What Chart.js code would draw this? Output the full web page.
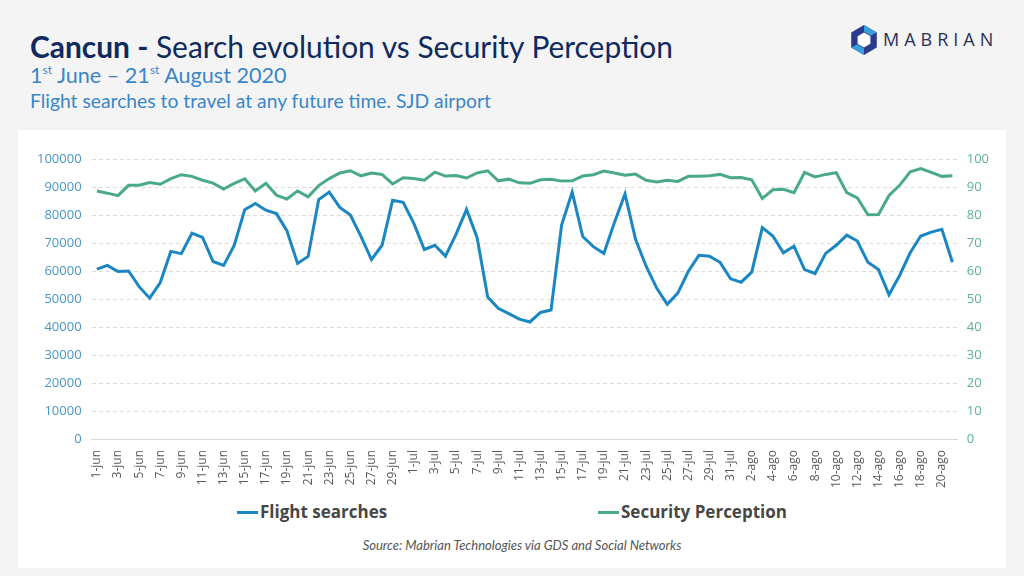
<!doctype html>
<html>

<head>
    <title>Cancun - Search evolution vs Security Perception</title>
    <script src="https://cdn.jsdelivr.net/npm/chart.js"></script>
    <style>
        body { margin: 0; width: 1024px; height: 576px; background: #f4f4f5; position: relative; overflow: hidden; font-family: Lato, "Open Sans", sans-serif; }
        .titulo { position: absolute; left: 30px; top: 28px; font-size: 29.9px; color: #102a5e; white-space: nowrap; }
        .titulo b { font-weight: 700; }
        .sub1 { position: absolute; left: 30px; top: 62px; font-size: 21.6px; color: #3b86c5; white-space: nowrap; }
        .sub1 sup { font-size: 12px; vertical-align: 9px; line-height: 0; }
        .sub2 { position: absolute; left: 30px; top: 89px; font-size: 19.3px; color: #3b86c5; white-space: nowrap; }
        .logo { position: absolute; left: 849px; top: 24px; }
        .logo svg { position: absolute; left: 0; top: 0; }
        .logo span { position: absolute; left: 34px; top: 3px; font-family: "Open Sans", sans-serif; font-size: 18px; letter-spacing: 5px; color: #2a2f5a; }
        .tarjeta { position: absolute; left: 18px; top: 130px; width: 988px; height: 438px; background: #fff; }
        #grafico { position: absolute; left: 18px; top: 141px; }
        .leyenda { position: absolute; top: 500px; font-family: "Open Sans", sans-serif; font-weight: 700; font-size: 17px; color: #474747; white-space: nowrap; }
        .leyenda i { display: inline-block; width: 21px; height: 3px; vertical-align: middle; margin-right: 2px; margin-top: -2px; }
        .fuente { position: absolute; top: 537px; left: 0; width: 1044px; text-align: center; font-style: italic; font-size: 13px; color: #555; }
    </style>
</head>

<body>

    <div class="titulo"><b>Cancun -</b> Search evolution vs Security Perception</div>
    <div class="sub1">1<sup>st</sup> June – 21<sup>st</sup> August 2020</div>
    <div class="sub2">Flight searches to travel at any future time. SJD airport</div>
    <div class="logo">
        <svg width="30" height="32" viewBox="0 0 28 30">
            <polygon points="14,1 26,8 26,22 14,29 2,22 2,8" fill="#2b3a8c" />
            <polygon points="14,1 26,8 20,11 14,7" fill="#3aa0dc" />
            <polygon points="2,22 8,19 14,23 14,29" fill="#3aa0dc" />
            <polygon points="14,8 20,11.5 20,18.5 14,22 8,18.5 8,11.5" fill="#fff" />
        </svg>
        <span>MABRIAN</span>
    </div>
    <div class="tarjeta"></div>
    <canvas id="grafico" width="988" height="350"></canvas>
    <div id="leyenda"></div>
    <div class="fuente">Source: Mabrian Technologies via GDS and Social Networks</div>

    <script>

    const fechas = ['1-jun', '2-jun', '3-jun', '4-jun', '5-jun', '6-jun', '7-jun', '8-jun', '9-jun', '10-jun',
        '11-jun', '12-jun', '13-jun', '14-jun', '15-jun', '16-jun', '17-jun', '18-jun', '19-jun', '20-jun',
        '21-jun', '22-jun', '23-jun', '24-jun', '25-jun', '26-jun', '27-jun', '28-jun', '29-jun', '30-jun',
        '1-jul', '2-jul', '3-jul', '4-jul', '5-jul', '6-jul', '7-jul', '8-jul', '9-jul', '10-jul',
        '11-jul', '12-jul', '13-jul', '14-jul', '15-jul', '16-jul', '17-jul', '18-jul', '19-jul', '20-jul',
        '21-jul', '22-jul', '23-jul', '24-jul', '25-jul', '26-jul', '27-jul', '28-jul', '29-jul', '30-jul', '31-jul',
        '1-ago', '2-ago', '3-ago', '4-ago', '5-ago', '6-ago', '7-ago', '8-ago', '9-ago', '10-ago',
        '11-ago', '12-ago', '13-ago', '14-ago', '15-ago', '16-ago', '17-ago', '18-ago', '19-ago', '20-ago', '21-ago'];

    // Flight searches (eje izquierdo)
    const busquedas = [60700, 62000, 59800, 60000, 54400, 50300, 55900, 67000, 66200, 73500,
        72000, 63400, 62000, 69100, 81900, 84100, 81700, 80500, 74300, 62700,
        65200, 85500, 88200, 82700, 80000, 72400, 64100, 69200, 85300, 84500,
        77100, 67700, 69200, 65300, 73100, 82000, 71900, 50700, 46700, 44800,
        42800, 41800, 45200, 46100, 76400, 88200, 72300, 68700, 66300, 77300,
        87500, 71300, 61700, 53900, 48100, 52100, 59900, 65600, 65300, 63100,
        57200, 56000, 59600, 75500, 72500, 66500, 68900, 60500, 59100, 66300,
        69200, 72800, 70700, 63100, 60500, 51500, 58400, 66500, 72500, 73900,
        74900, 63100];

    // Security Perception (eje derecho)
    const seguridad = [88.6, 87.8, 86.9, 90.6, 90.6, 91.6, 91.0, 93.0, 94.4, 93.8,
        92.4, 91.4, 89.3, 91.3, 92.9, 88.6, 91.3, 87.1, 85.7, 88.6,
        86.5, 90.5, 93.0, 95.0, 95.8, 94.0, 95.0, 94.5, 91.1, 93.3,
        93.0, 92.4, 95.3, 93.9, 94.1, 93.2, 95.0, 95.8, 92.2, 92.8,
        91.5, 91.3, 92.6, 92.8, 92.1, 92.2, 93.9, 94.4, 95.7, 95.0,
        94.2, 94.6, 92.4, 91.8, 92.4, 92.0, 93.8, 93.8, 94.0, 94.5,
        93.3, 93.4, 92.6, 85.9, 89.0, 89.2, 88.0, 95.2, 93.6, 94.5,
        95.1, 88.0, 86.1, 80.1, 80.2, 87.0, 90.6, 95.4, 96.6, 95.2,
        93.8, 94.0];

    const AZUL = '#1a86c2';
    const VERDE = '#4aaa86';

        var grafico = new Chart(document.getElementById('grafico').getContext('2d'), {
            type: 'line',
            data: {
                labels: fechas,
                datasets: [{
                    label: 'Flight searches',
                    data: busquedas,
                    borderColor: AZUL,
                    backgroundColor: AZUL,
                    borderWidth: 3,
                    pointRadius: 0,
                    tension: 0,
                    yAxisID: 'y'
                },
                {
                    label: 'Security Perception',
                    data: seguridad,
                    borderColor: VERDE,
                    backgroundColor: VERDE,
                    borderWidth: 3,
                    pointRadius: 0,
                    tension: 0,
                    yAxisID: 'y1'
                }]
            },
            options: {
                responsive: false,
                animation: false,
                layout: { padding: { top: 18, left: 9, right: 8, bottom: 0 } },
                plugins: {
                    legend: { display: false },
                    tooltip: { enabled: false }
                },
                scales: {
                    x: {
                        offset: true,
                        grid: { display: false },
                        border: { color: '#d9d9d9' },
                        ticks: {
                            autoSkip: false,
                            minRotation: 90,
                            maxRotation: 90,
                            color: '#595959',
                            font: { family: 'Open Sans', size: 12 },
                            callback: function (v, i) { return i % 2 == 0 ? fechas[i] : ''; }
                        }
                    },
                    y: {
                        position: 'left',
                        min: 0,
                        max: 100000,
                        border: { display: false, dash: [4, 3] },
                        grid: { color: '#e0dada', drawTicks: false },
                        ticks: {
                            stepSize: 10000,
                            padding: 10,
                            color: '#4b95c2',
                            font: { family: 'Open Sans', size: 13 },
                            callback: function (v) { return String(v); }
                        }
                    },
                    y1: {
                        position: 'right',
                        min: 0,
                        max: 100,
                        border: { display: false },
                        grid: { display: false, drawTicks: false },
                        ticks: {
                            stepSize: 10,
                            padding: 9,
                            color: '#5cb196',
                            font: { family: 'Open Sans', size: 13 }
                        }
                    }
                }
            }
        });

        // leyenda propia, separada como en el original
        var posLeyenda = [237, 598];
        grafico.data.datasets.forEach(function (ds, i) {
            var d = document.createElement('div');
            d.className = 'leyenda';
            d.style.left = posLeyenda[i] + 'px';
            d.innerHTML = '<i style="background:' + ds.borderColor + '"></i>' + ds.label;
            document.getElementById('leyenda').appendChild(d);
        });

    </script>
</body>

</html>
